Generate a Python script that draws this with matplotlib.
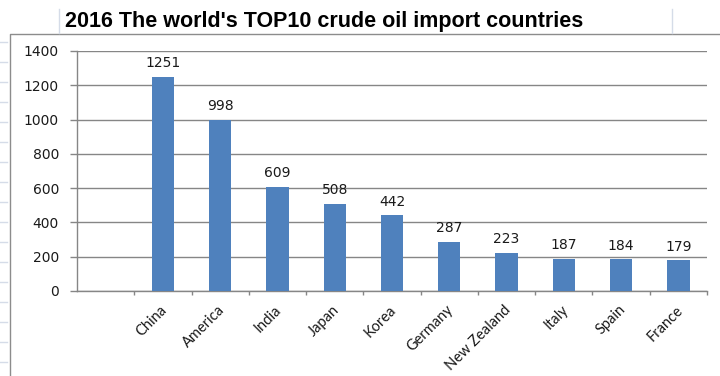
"""
Стовпчикова діаграма: топ-10 країн-імпортерів сирої нафти у 2016 році.
Зберігає out.png.
"""

import numpy as np
import matplotlib

matplotlib.use("Agg")
import matplotlib.pyplot as plt
from matplotlib.lines import Line2D

countries = ["China", "America", "India", "Japan", "Korea",
             "Germany", "New Zealand", "Italy", "Spain", "France"]
imports = [1251, 998, 609, 508, 442, 287, 223, 187, 184, 179]
y_ticks = [0, 200, 400, 600, 800, 1000, 1200, 1400]
title = "2016 The world's TOP10 crude oil import countries"

BAR_COLOR = "#4f81bd"
AXIS_GRAY = "#868686"
CELL_LINE = "#d5dce8"
W, H = 720, 376


def px(x, y):
    """Піксельні координати (від верхнього лівого кута) -> частки фігури."""
    return x / W, 1 - y / H


def draw_sheet(fig):
    """Рамка діаграми та лінії клітинок аркуша навколо неї."""
    x0, y0 = px(10, 34)
    fig.add_artist(Line2D([x0, x0, 1], [0, y0, y0], color="#8c8c8c", lw=1.0))
    for cx in (59, 672):
        xa, ya = px(cx, 9)
        _, yb = px(cx, 33)
        fig.add_artist(Line2D([xa, xa], [ya, yb], color=CELL_LINE, lw=1.0))
    for ry in np.arange(41.7, H, 20):
        xa, ya = px(0, ry)
        xb, _ = px(7, ry)
        fig.add_artist(Line2D([xa, xb], [ya, ya], color=CELL_LINE, lw=1.0))


def plot_imports():
    fig = plt.figure(figsize=(W / 100, H / 100), dpi=100)
    fig.patch.set_facecolor("white")
    draw_sheet(fig)

    tx, ty = px(65, 27)
    fig.text(tx, ty, title, family="Liberation Sans", weight="bold",
             fontsize=15.5, va="baseline", ha="left", color="black")

    left, top = px(77, 51)
    right, bottom = px(707, 291)
    ax = fig.add_axes([left, bottom, right - left, top - bottom])

    # перший слот категорій лишається порожнім
    x = np.arange(1, len(countries) + 1)
    ax.bar(x, imports, width=0.39, color=BAR_COLOR, zorder=3)
    ax.set_xlim(-0.5, len(countries) + 0.5)
    ax.set_ylim(0, 1400)

    for xi, v in zip(x, imports):
        ax.annotate(str(v), xy=(xi, v), xytext=(0, 7), textcoords="offset points",
                    ha="center", va="baseline", fontsize=10,
                    family="DejaVu Sans", color="#1a1a1a")

    for xi, name in zip(x, countries):
        ax.annotate(name, xy=(xi, 0), xycoords=("data", "axes fraction"),
                    xytext=(1.5, -12), textcoords="offset points",
                    rotation=45, rotation_mode="anchor", ha="right", va="center",
                    fontsize=10.5, family="Lato", color="#1a1a1a")

    ax.set_xticks(np.arange(0.5, len(countries) + 1, 1))
    ax.set_xticklabels([])
    ax.set_yticks(y_ticks)
    ax.set_yticklabels([str(t) for t in y_ticks], family="DejaVu Sans",
                       fontsize=10, color="#1a1a1a")
    ax.tick_params(axis="x", length=3, width=1, color=AXIS_GRAY, direction="out")
    ax.tick_params(axis="y", length=5, width=1, color=AXIS_GRAY, direction="out", pad=8)

    ax.grid(axis="y", color=AXIS_GRAY, lw=1, zorder=0)
    for side in ("top", "right"):
        ax.spines[side].set_visible(False)
    for side in ("left", "bottom"):
        ax.spines[side].set_color(AXIS_GRAY)
        ax.spines[side].set_linewidth(1)

    fig.savefig("out.png", dpi=100)
    plt.close(fig)


if __name__ == "__main__":
    plot_imports()
